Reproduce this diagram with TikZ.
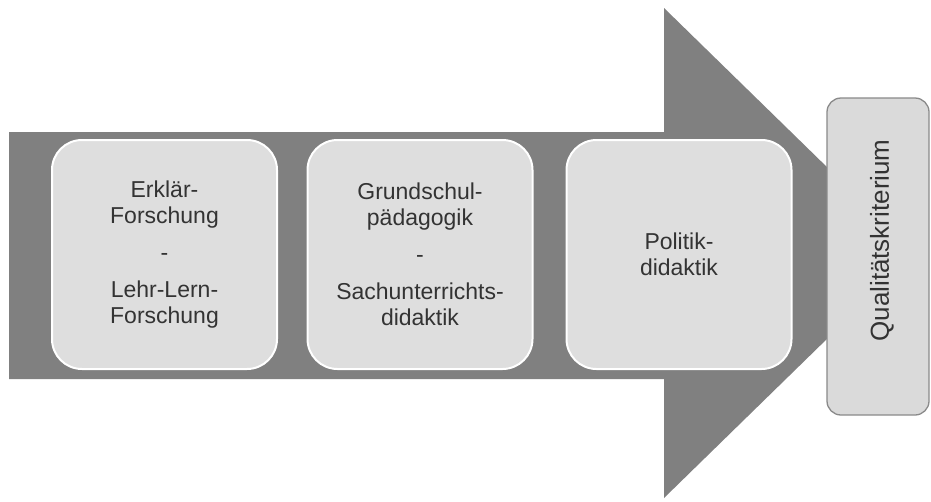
\documentclass[tikz,border=0pt]{standalone}
\usepackage{fontspec}
\setmainfont{Liberation Sans}
\definecolor{arrowgray}{HTML}{808080}
\definecolor{boxfill}{HTML}{DEDEDE}
\definecolor{qfill}{HTML}{DADADA}
\definecolor{qborder}{HTML}{8A8A8A}
\definecolor{txt}{HTML}{333333}
\begin{document}
\begin{tikzpicture}[x=1pt,y=-1pt,
  stagebox/.style={draw=white, line width=2pt, fill=boxfill, rounded corners=30pt,
    minimum width=225pt, minimum height=229pt, inner sep=0pt, align=center,
    text=txt, font=\fontsize{23}{26}\selectfont},
  qualbox/.style={draw=qborder, line width=1.3pt, fill=qfill, rounded corners=14pt,
    minimum width=102pt, minimum height=317pt, inner sep=0pt},
  qualtext/.style={rotate=90, text=txt, font=\fontsize{26}{30}\selectfont, inner sep=0pt}]
\useasboundingbox (0,0) rectangle (931,501);
\fill[white] (0,0) rectangle (931,501);
% big arrow
\fill[arrowgray] (9,132) -- (664,132) -- (664,8) -- (915,253) -- (664,498) -- (664,379) -- (9,379) -- cycle;
% stage boxes
\node[stagebox] (b1) at (164.5,254.5) {Erklär-\\Forschung\\[11pt]-\\[11pt]Lehr-Lern-\\Forschung};
\node[stagebox] (b2) at (420,254.5) {Grundschul-\\pädagogik\\[11pt]-\\[11pt]Sachunterrichts-\\didaktik};
\node[stagebox] (b3) at (679,254.5) {Politik-\\didaktik};
% quality criterion
\node[qualbox] (q) at (878,256.5) {};
\node[qualtext] (qt) at (882,240.5) {Qualitätskriterium};
\end{tikzpicture}
\end{document}
